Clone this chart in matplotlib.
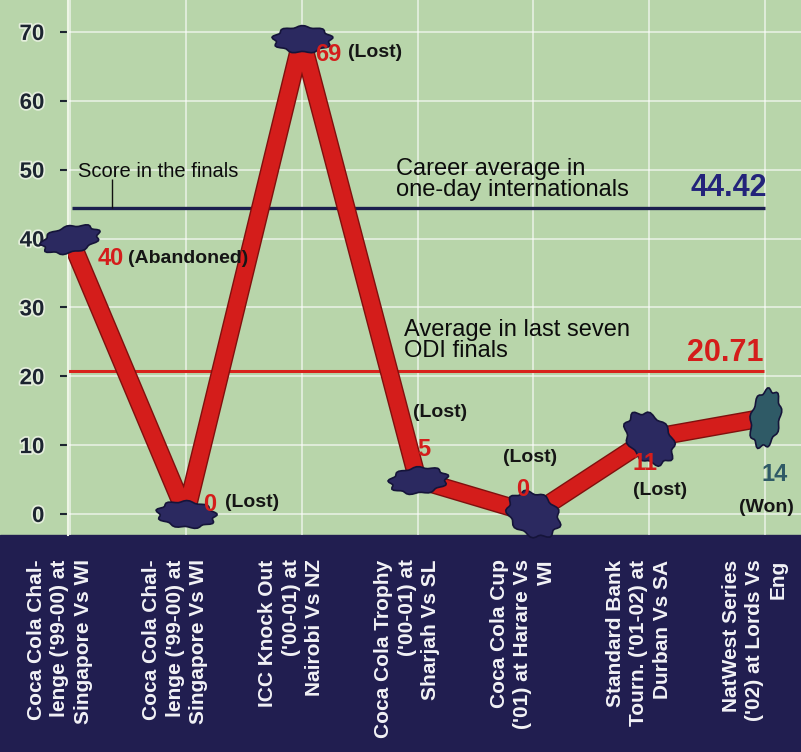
import numpy as np
import matplotlib
matplotlib.use("Agg")
import matplotlib.pyplot as plt
import matplotlib.patheffects as pe
from matplotlib.path import Path
from matplotlib.patches import Rectangle
from matplotlib.transforms import Affine2D, blended_transform_factory

# ---------------- data ----------------
finals = [
    "Coca Cola Chal-\nlenge ('99-00) at\nSingapore Vs WI",
    "Coca Cola Chal-\nlenge ('99-00) at\nSingapore Vs WI",
    "ICC Knock Out\n('00-01) at\nNairobi Vs NZ",
    "Coca Cola Trophy\n('00-01) at\nSharjah Vs SL",
    "Coca Cola Cup\n('01) at Harare Vs\nWI",
    "Standard Bank\nTourn. ('01-02) at\nDurban Vs SA",
    "NatWest Series\n('02) at Lords Vs\nEng",
]
scores = [40, 0, 69, 5, 0, 11, 14]
results = ["(Abandoned)", "(Lost)", "(Lost)", "(Lost)", "(Lost)", "(Lost)", "(Won)"]
career_avg = 44.42
finals_avg = 20.71
y_ticks = [0, 10, 20, 30, 40, 50, 60, 70]

# ---------------- style ----------------
GREEN = "#b8d5aa"
NAVY = "#211e50"
RED = "#d41d1b"
DARK_RED = "#80100e"
BLOB = "#2b2960"
TEAL = "#2f5a66"
NARROW = ["Liberation Sans Narrow", "Liberation Sans", "DejaVu Sans"]

# offsets (pixels) of number / result labels from each point
num_off = [(41, -20), (24, 9), (27, -16), (6, 30), (-11, 24), (-4, -25), (10, -57)]
res_off = [(58, -20), (39, 11), (46, -14), (23, 67), (-3, 56), (11, -52), (1, -90)]
res_ha = ["left", "left", "left", "center", "center", "center", "center"]
blob_angle = [12, -4, 0, 5, -30, -50, 80]
blob_ratio = [0.45, 0.45, 0.45, 0.45, 0.75, 0.7, 0.5]


def roller(angle, ratio):
    t = np.linspace(0, 2 * np.pi, 60)
    r = 1 + 0.08 * np.sin(9 * t)
    v = np.column_stack([r * np.cos(t), ratio * r * np.sin(t)])
    v = Affine2D().rotate_deg(angle).transform(v)
    return Path(v, closed=True)


fig = plt.figure(figsize=(8.01, 7.52), dpi=100)
fig.patch.set_facecolor(GREEN)
fig.patches.append(Rectangle((0, 0), 1, 217 / 752, transform=fig.transFigure,
                             color=NAVY, zorder=-1))

ax = fig.add_axes([68 / 801, 217 / 752, 733 / 801, 535 / 752])
ax.set_facecolor("none")
x = np.arange(len(scores))
ax.set_xlim(-0.017, 6.31)
ax.set_ylim(-3.05, 74.64)

for s in ["top", "right", "bottom"]:
    ax.spines[s].set_visible(False)
ax.spines["left"].set_color("#eef5e6")
ax.spines["left"].set_linewidth(1.5)

ax.set_xticks(x)
ax.set_xticklabels([])
ax.tick_params(axis="x", length=0)
ax.set_yticks(y_ticks)
ax.set_yticklabels([str(t) for t in y_ticks], family=NARROW, fontsize=16,
                   fontweight="bold", color="#1c2430")
for t in ax.get_yticklabels():
    t.set_path_effects([pe.withStroke(linewidth=2.5, foreground="#e4eedc")])
ax.tick_params(axis="y", length=6, width=1.5, color="#1c2430", pad=11)
ax.grid(True, color="white", lw=1.3, alpha=0.6)
ax.set_axisbelow(True)

# reference lines
ax.hlines(career_avg, 0.02, 6.0, color="#1b1f4e", lw=2.4, zorder=2)
ax.hlines(finals_avg, -0.03, 5.99, color="#d8231c", lw=2.2, zorder=2)

ax.annotate("Career average in\none-day internationals", xy=(2.81, career_avg),
            xytext=(0, 7), textcoords="offset pixels", ha="left", va="bottom",
            family=NARROW, fontsize=17, color="#0c0c0c", linespacing=0.95)
ax.annotate(f"{career_avg:.2f}", xy=(6.0, career_avg), xytext=(2, 5),
            textcoords="offset pixels", ha="right", va="bottom",
            family=NARROW, fontsize=22, fontweight="bold", color="#23237a")
ax.annotate("Average in last seven\nODI finals", xy=(2.88, finals_avg),
            xytext=(0, 9), textcoords="offset pixels", ha="left", va="bottom",
            family=NARROW, fontsize=17, color="#0c0c0c", linespacing=0.95)
ax.annotate(f"{finals_avg:.2f}", xy=(5.99, finals_avg), xytext=(0, 3),
            textcoords="offset pixels", ha="right", va="bottom",
            family=NARROW, fontsize=22, fontweight="bold", color=RED)

# "Score in the finals" with a short leader down to the career line
ax.text(0.07, 49.8, "Score in the finals", ha="left", va="center",
        family=NARROW, fontsize=14.5, color="#0c0c0c")
ax.vlines(0.36, career_avg, 48.6, color="#111111", lw=1.0, zorder=2)

# score line
ax.plot(x, scores, color=RED, lw=11.5, solid_capstyle="butt", solid_joinstyle="round",
        zorder=3, path_effects=[pe.Stroke(linewidth=13.5, foreground=DARK_RED), pe.Normal()])
for i, v in enumerate(scores):
    c = TEAL if i == len(scores) - 1 else BLOB
    ax.plot(i, v, marker=roller(blob_angle[i], blob_ratio[i]), ms=44 if blob_ratio[i] < 0.6 else 40,
            color=c, mec="#15143a", mew=1.2, zorder=4, clip_on=False)
    num_col = TEAL if i == len(scores) - 1 else RED
    ax.annotate(str(v), xy=(i, v), xytext=num_off[i], textcoords="offset pixels",
                ha="center", va="center", family=NARROW, fontsize=17,
                fontweight="bold", color=num_col, zorder=5)
    ax.annotate(results[i], xy=(i, v), xytext=res_off[i], textcoords="offset pixels",
                ha=res_ha[i], va="center", family=NARROW, fontsize=14,
                fontweight="bold", color="#151515", zorder=5)

# category labels in the dark band
blend = blended_transform_factory(ax.transData, fig.transFigure)
for i, lab in enumerate(finals):
    ax.text(i - 0.09, 0.256, lab, transform=blend, rotation=90, ha="center", va="top",
            multialignment="right", family=NARROW, fontsize=15, fontweight="bold",
            color="#f2f2f6", linespacing=1.3, clip_on=False)

fig.savefig("out.png", dpi=100, facecolor=fig.get_facecolor())
